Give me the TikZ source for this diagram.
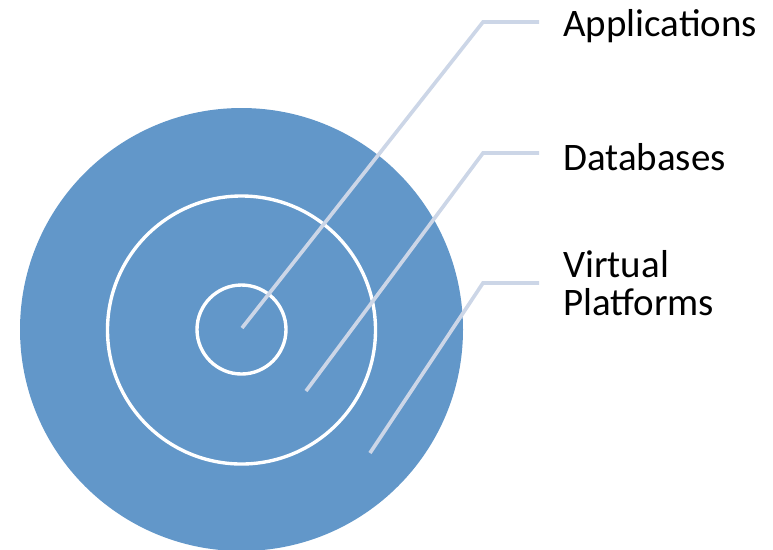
\documentclass[tikz,border=0pt]{standalone}
\usepackage{fontspec}
\setmainfont{Carlito}
\usetikzlibrary{positioning}

\definecolor{ringblue}{RGB}{98,151,201}
\definecolor{leadgray}{RGB}{204,214,231}

\tikzset{
    leader/.style={draw=leadgray, line width=2.6pt},
    ring/.style={draw=white, line width=2.4pt},
    lbl/.style={inner sep=0pt, anchor=west, align=left,
                font=\fontsize{27.7}{27}\selectfont}
}

\begin{document}
\begin{tikzpicture}[x=0.025cm, y=-0.025cm]
    \useasboundingbox (0, 0) rectangle (773, 549);

    \fill[ringblue] (241.5, 329.5) circle (221.5);
    \draw[ring] (241.5, 330) circle (134);
    \draw[ring] (241.5, 329.5) circle (44.5);

    \coordinate (appPt) at (242, 328);
    \coordinate (appBend) at (483, 22);
    \coordinate (appEnd) at (539, 22);
    \coordinate (dbPt) at (306, 391);
    \coordinate (dbBend) at (483, 153);
    \coordinate (dbEnd) at (539, 153);
    \coordinate (vpPt) at (370, 453);
    \coordinate (vpBend) at (483, 283);
    \coordinate (vpEnd) at (539, 283);

    \node[lbl, right=0.6cm of appEnd, yshift=-0.1cm] (appLbl) {Applications};
    \node[lbl, right=0.6cm of dbEnd, yshift=-0.1cm] (dbLbl) {Databases};
    \node[lbl, right=0.6cm of vpEnd] (vpLbl) {Virtual\\Platforms};

    \draw[leader] (appPt) -- (appBend) -- (appEnd);
    \draw[leader] (dbPt) -- (dbBend) -- (dbEnd);
    \draw[leader] (vpPt) -- (vpBend) -- (vpEnd);
\end{tikzpicture}
\end{document}
